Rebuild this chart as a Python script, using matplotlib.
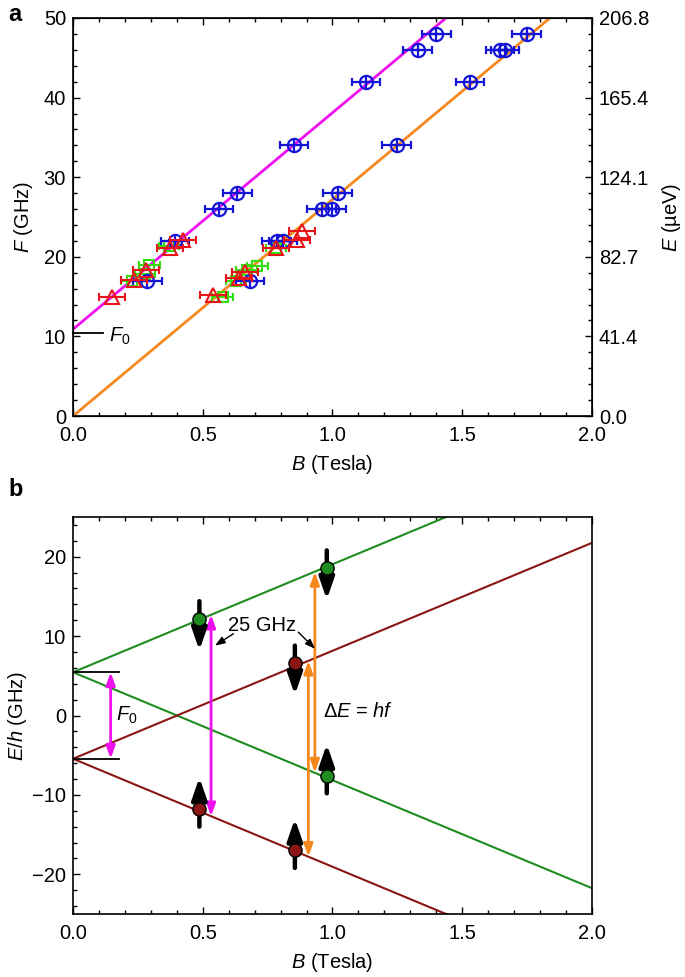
import matplotlib.pyplot as plt
import numpy as np
from matplotlib.ticker import MultipleLocator

plt.rcParams["font.family"] = ["Liberation Sans", "DejaVu Sans"]
plt.rcParams["mathtext.fontset"] = "custom"
plt.rcParams["mathtext.rm"] = "Liberation Sans"
plt.rcParams["mathtext.it"] = "Liberation Sans:italic"
plt.rcParams["font.size"] = 14.5

# ---- panel a data: resonance field B (T) vs frequency F (GHz) ----
blue_B = [0.286, 0.393, 0.563, 0.633, 0.852, 1.129, 1.328, 1.400,
          0.682, 0.785, 0.810, 0.958, 0.997, 1.020, 1.247, 1.530, 1.645, 1.665, 1.748]
blue_F = [17, 22, 26, 28, 34, 42, 46, 48,
          17, 22, 22, 26, 26, 28, 34, 42, 46, 46, 48]

red_B = [0.149, 0.235, 0.281, 0.374, 0.425,
         0.541, 0.641, 0.663, 0.782, 0.862, 0.881]
red_F = [15.0, 17.1, 18.3, 21.1, 22.1,
         15.2, 17.3, 18.1, 21.1, 22.1, 23.2]

green_B = [0.226, 0.277, 0.294, 0.370,
           0.577, 0.628, 0.670, 0.710, 0.782]
green_F = [16.9, 17.9, 19.0, 21.3,
           15.0, 17.0, 18.3, 18.8, 21.1]

F0 = 10.9          # zero-field splitting (GHz)
SLOPE = 27.2       # GHz per Tesla
GHZ_TO_UEV = 4.1357

# ---- panel b data: Zeeman levels and spin states ----
level_offset = [F0 / 2, F0 / 2, -F0 / 2, -F0 / 2]
level_slope = [SLOPE / 2, -SLOPE / 2, SLOPE / 2, -SLOPE / 2]
level_color = ["#1e8c1e", "#1e8c1e", "#8b1414", "#8b1414"]

spin_B = [0.487, 0.487, 0.855, 0.855, 0.978, 0.978]
spin_E = [12.2, -11.8, 6.6, -17.0, 18.6, -7.6]
spin_dir = [-1, 1, -1, 1, -1, 1]
spin_color = ["#1e8c1e", "#8b1414", "#8b1414", "#8b1414", "#1e8c1e", "#1e8c1e"]

MAGENTA = "#ee10ee"
ORANGE = "#f5891e"

fig = plt.figure(figsize=(6.85, 9.77), dpi=100)
ax_a = fig.add_axes([0.1066, 0.5742, 0.7576, 0.4074])
ax_b = fig.add_axes([0.1066, 0.0645, 0.7576, 0.4063])


def style_axis(ax, right=False):
    ax.xaxis.set_major_locator(MultipleLocator(0.5))
    ax.xaxis.set_minor_locator(MultipleLocator(0.1))
    ax.yaxis.set_major_locator(MultipleLocator(10))
    ax.yaxis.set_minor_locator(MultipleLocator(2))
    ax.tick_params(which="both", direction="in", top=True, right=right, width=1)
    ax.tick_params(which="major", length=5, pad=5)
    ax.tick_params(axis="x", which="major", pad=7)
    ax.tick_params(which="minor", length=3)
    for sp in ax.spines.values():
        sp.set_linewidth(1.2)
    ax.xaxis.set_major_formatter(plt.FormatStrFormatter("%.1f"))


# ---------------- panel a ----------------
bb = np.array([0.0, 2.0])
ax_a.plot(bb, F0 + SLOPE * bb, color=MAGENTA, lw=2, zorder=2)
ax_a.plot(bb, SLOPE * bb, color=ORANGE, lw=2, zorder=2)

ax_a.errorbar(green_B, green_F, xerr=0.04, fmt="s", ms=7, mfc="none", mec="#33dd11",
              mew=1.5, ecolor="#33dd11", elinewidth=1.5, capsize=3, capthick=1.5, zorder=3)
ax_a.errorbar(blue_B, blue_F, xerr=0.055, fmt="o", ms=9.5, mfc="none", mec="#1414d8",
              mew=1.6, ecolor="#1414d8", elinewidth=1.6, capsize=3, capthick=1.6, zorder=4)
ax_a.plot(blue_B, blue_F, "+", ms=9.5, mew=1.6, color="#1414d8", zorder=4)
ax_a.errorbar(red_B, red_F, xerr=0.05, fmt="^", ms=10.5, mfc="none", mec="#e8141a",
              mew=1.5, ecolor="#e8141a", elinewidth=1.5, capsize=3, capthick=1.5, zorder=5)

ax_a.plot([0, 0.117], [10.4, 10.4], color="black", lw=1.3, clip_on=False)
ax_a.text(0.14, 10.0, "$F_0$", va="center", ha="left")

ax_a.set_xlim(0, 2.0)
ax_a.set_ylim(0, 50)
style_axis(ax_a)
ax_a.set_xlabel("$B$ (Tesla)", labelpad=6)
ax_a.set_ylabel("$F$ (GHz)", labelpad=6)

ax_e = ax_a.twinx()
ax_e.set_ylim(0, 50 * GHZ_TO_UEV)
e_ticks = np.arange(0, 51, 10) * GHZ_TO_UEV
ax_e.set_yticks(e_ticks)
ax_e.set_yticklabels([f"{t:.1f}" for t in e_ticks])
ax_e.set_yticks(np.arange(0, 51, 2) * GHZ_TO_UEV, minor=True)
ax_e.tick_params(which="both", direction="in", width=1)
ax_e.tick_params(which="major", length=5, pad=5)
ax_e.tick_params(which="minor", length=3)
ax_e.set_ylabel("$E$ (\u00b5eV)", labelpad=8)

fig.text(0.012, 0.985, "a", fontsize=17, fontweight="bold", va="center")

# ---------------- panel b ----------------
bl = np.linspace(0, 2.0, 50)
for off, sl, col in zip(level_offset, level_slope, level_color):
    ax_b.plot(bl, off + sl * bl, color=col, lw=1.5, zorder=2)

ax_b.plot([0, 0.178], [F0 / 2, F0 / 2], color="black", lw=1.3)
ax_b.plot([0, 0.178], [-F0 / 2, -F0 / 2], color="black", lw=1.3)


def double_arrow(x, y0, y1, color):
    ax_b.annotate("", xy=(x, y1), xytext=(x, y0),
                  arrowprops=dict(arrowstyle="<|-|>,head_length=0.75,head_width=0.27",
                                  color=color, lw=2, shrinkA=0, shrinkB=0,
                                  mutation_scale=10), zorder=3)


double_arrow(0.145, -F0 / 2, F0 / 2, MAGENTA)
ax_b.text(0.165, 0.0, "$F_0$", va="center", ha="left")
double_arrow(0.532, -12.7, 12.7, MAGENTA)
double_arrow(0.907, -17.8, 6.9, ORANGE)
double_arrow(0.932, -7.2, 18.1, ORANGE)

for x, y, d, col in zip(spin_B, spin_E, spin_dir, spin_color):
    tail = y - d * 2.2
    tip = y + d * 4.0
    ax_b.annotate("", xy=(x, tip), xytext=(x, tail),
                  arrowprops=dict(arrowstyle="-|>,head_length=1.3,head_width=0.45",
                                  color="black", lw=3.2, shrinkA=0, shrinkB=0,
                                  mutation_scale=10), zorder=4)
    ax_b.plot(x, y, "o", ms=9.5, mfc=col, mec="black", mew=1, zorder=5)

ax_b.text(0.73, 11.3, "25 GHz", ha="center", va="center")
pointer = dict(arrowstyle="-|>,head_length=0.6,head_width=0.22", color="black",
               lw=1, shrinkA=0, shrinkB=0, mutation_scale=10)
ax_b.annotate("", xy=(0.547, 8.8), xytext=(0.618, 10.3), arrowprops=pointer)
ax_b.annotate("", xy=(0.933, 8.4), xytext=(0.868, 10.5), arrowprops=pointer)

ax_b.text(0.965, 0.5, "$\\Delta E$ = $hf$", ha="left", va="center")

ax_b.set_xlim(0, 2.0)
ax_b.set_ylim(-25, 25)
style_axis(ax_b)
ax_b.set_xlabel("$B$ (Tesla)", labelpad=6)
ax_b.set_ylabel("$E/h$ (GHz)", labelpad=2)

fig.text(0.012, 0.4985, "b", fontsize=17, fontweight="bold", va="center")

fig.savefig("out.png", dpi=100)
